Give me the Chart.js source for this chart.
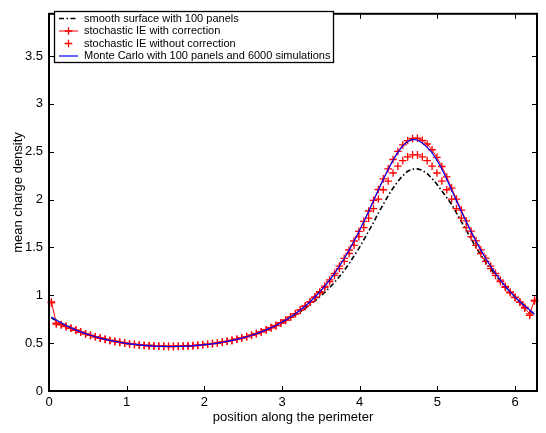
<!DOCTYPE html>
<html><head><meta charset="utf-8">
<script src="https://cdn.jsdelivr.net/npm/chart.js@4"></script>
<style>html,body{margin:0;padding:0;background:#fff;} canvas{display:block;}</style>
</head><body>
<canvas id="c" width="546" height="433"></canvas>
<script>
const positions = [0.031,0.094,0.157,0.220,0.283,0.346,0.408,0.471,0.534,0.597,0.660,0.723,0.785,0.848,0.911,0.974,1.037,1.100,1.162,1.225,1.288,1.351,1.414,1.477,1.539,1.602,1.665,1.728,1.791,1.854,1.916,1.979,2.042,2.105,2.168,2.231,2.293,2.356,2.419,2.482,2.545,2.608,2.670,2.733,2.796,2.859,2.922,2.985,3.047,3.110,3.173,3.236,3.299,3.362,3.424,3.487,3.550,3.613,3.676,3.739,3.801,3.864,3.927,3.990,4.053,4.116,4.178,4.241,4.304,4.367,4.430,4.492,4.555,4.618,4.681,4.744,4.807,4.869,4.932,4.995,5.058,5.121,5.184,5.246,5.309,5.372,5.435,5.498,5.560,5.623,5.686,5.749,5.812,5.875,5.938,6.000,6.063,6.126,6.189,6.252];

const smoothSurface = [0.764,0.734,0.707,0.681,0.658,0.637,0.617,0.600,0.583,0.568,0.555,0.542,0.531,0.521,0.512,0.504,0.497,0.490,0.485,0.480,0.477,0.474,0.471,0.470,0.469,
0.469,0.470,0.471,0.474,0.477,0.480,0.485,0.490,0.497,0.504,0.512,0.521,0.531,0.542,0.555,0.568,0.583,0.600,0.617,0.637,0.658,0.681,0.707,0.734,0.764,
0.795,0.828,0.864,0.902,0.942,0.985,1.030,1.080,1.135,1.195,1.260,1.330,1.410,1.490,1.580,1.670,1.760,1.860,1.950,2.040,2.120,2.190,2.250,2.295,2.318,
2.320,2.305,2.270,2.220,2.160,2.090,2.020,1.950,1.860,1.770,1.680,1.590,1.500,1.420,1.345,1.275,1.210,1.150,1.090,1.035,0.985,0.935,0.890,0.845,0.800];

const ieCorrected = [0.930,0.710,0.695,0.675,0.655,0.635,0.615,0.597,0.581,0.566,0.552,0.539,0.528,0.517,0.508,0.500,0.492,0.486,0.480,0.476,0.472,0.469,0.467,0.466,0.465,
0.465,0.466,0.468,0.470,0.473,0.477,0.482,0.488,0.494,0.501,0.510,0.519,0.529,0.541,0.554,0.568,0.583,0.600,0.619,0.640,0.662,0.686,0.713,0.742,0.774,
0.809,0.847,0.888,0.933,0.983,1.037,1.096,1.160,1.229,1.305,1.386,1.473,1.567,1.667,1.772,1.880,1.992,2.105,2.216,2.321,2.418,2.502,2.570,2.616,2.638,
2.640,2.618,2.580,2.520,2.440,2.345,2.236,2.120,2.004,1.890,1.778,1.671,1.569,1.474,1.387,1.305,1.229,1.158,1.093,1.034,0.979,0.928,0.865,0.805,0.950];

const ieUncorrected = [0.920,0.700,0.690,0.672,0.655,0.636,0.616,0.598,0.581,0.566,0.552,0.540,0.528,0.518,0.509,0.500,0.493,0.487,0.481,0.477,0.473,0.470,0.468,0.467,0.466,
0.466,0.467,0.469,0.471,0.474,0.478,0.483,0.489,0.495,0.502,0.510,0.519,0.529,0.541,0.553,0.567,0.582,0.599,0.617,0.638,0.660,0.683,0.709,0.738,0.770,
0.807,0.844,0.884,0.928,0.975,1.026,1.082,1.143,1.208,1.279,1.355,1.436,1.522,1.613,1.707,1.805,1.905,2.005,2.102,2.193,2.277,2.348,2.406,2.446,2.466,
2.466,2.446,2.406,2.348,2.277,2.193,2.102,2.005,1.905,1.805,1.707,1.613,1.522,1.436,1.355,1.279,1.208,1.143,1.082,1.026,0.975,0.928,0.875,0.790,0.940];

const monteCarlo = [0.773,0.741,0.712,0.685,0.661,0.639,0.618,0.599,0.582,0.567,0.553,0.540,0.528,0.518,0.509,0.500,0.493,0.487,0.481,0.476,0.472,0.469,0.467,0.466,0.465,
0.465,0.466,0.467,0.469,0.472,0.476,0.481,0.487,0.493,0.500,0.509,0.518,0.528,0.540,0.553,0.567,0.582,0.599,0.618,0.639,0.661,0.685,0.712,0.741,0.773,
0.808,0.846,0.887,0.932,0.982,1.036,1.094,1.158,1.227,1.303,1.384,1.471,1.564,1.664,1.768,1.876,1.987,2.099,2.210,2.314,2.410,2.493,2.560,2.606,2.628,
2.622,2.590,2.545,2.490,2.412,2.318,2.212,2.100,1.987,1.876,1.768,1.664,1.564,1.471,1.384,1.303,1.227,1.158,1.094,1.036,0.982,0.932,0.887,0.846,0.800];

const seriesLabels = ['smooth surface with 100 panels','stochastic IE with correction','stochastic IE without correction','Monte Carlo with 100 panels and 6000 simulations'];
const xTicks = [0,1,2,3,4,5,6];
const yTicks = [0,0.5,1,1.5,2,2.5,3,3.5];
const xTitle = 'position along the perimeter';
const yTitle = 'mean charge density';
const xMax = 6.2832, yMax = 3.94;

const FONT = '"Liberation Sans", Arial, Helvetica, sans-serif';
const pts = arr => arr.map((v,i)=>({x:positions[i], y:v}));

const datasets = [
  {label: seriesLabels[0], data: pts(smoothSurface), borderColor:'#000', borderWidth:1.6, borderDash:[5,2.5,1.5,2.5], pointRadius:0, order:4, kind:'dashdot'},
  {label: seriesLabels[1], data: pts(ieCorrected), borderColor:'#ff0000', borderWidth:1, pointStyle:'cross', pointRadius:3.8, pointBorderWidth:1.3, pointBorderColor:'#ff0000', order:2, kind:'lineCross'},
  {label: seriesLabels[2], data: pts(ieUncorrected), borderColor:'#ff0000', showLine:false, pointStyle:'cross', pointRadius:3.8, pointBorderWidth:1.3, pointBorderColor:'#ff0000', order:3, kind:'cross'},
  {label: seriesLabels[3], data: pts(monteCarlo), borderColor:'#0000ff', borderWidth:1.2, pointRadius:0, order:1, kind:'line'}
];
datasets.forEach(d=>{d.fill=false; d.tension=0; d.clip=6; d.pointHoverRadius=0;});

const framePlugin = {
  id:'frame',
  afterDraw(chart){
    const {ctx, chartArea:{left,right,top,bottom}, scales:{x,y}} = chart;
    ctx.save();
    ctx.strokeStyle='#000';
    ctx.lineWidth=1;
    const tl=5;
    xTicks.forEach(v=>{
      const p=Math.round(x.getPixelForValue(v))+0.5;
      ctx.beginPath(); ctx.moveTo(p,bottom); ctx.lineTo(p,bottom-tl); ctx.moveTo(p,top); ctx.lineTo(p,top+tl); ctx.stroke();
    });
    yTicks.forEach(v=>{
      const p=Math.round(y.getPixelForValue(v))+0.5;
      ctx.beginPath(); ctx.moveTo(left,p); ctx.lineTo(left+tl,p); ctx.moveTo(right,p); ctx.lineTo(right-tl,p); ctx.stroke();
    });
    ctx.lineWidth=2;
    ctx.strokeRect(left,top,right-left,bottom-top);
    // y title
    ctx.save();
    ctx.translate(18.5,192.5); ctx.rotate(-Math.PI/2);
    ctx.font='13px '+FONT; ctx.fillStyle='#000'; ctx.textAlign='center'; ctx.textBaseline='middle';
    ctx.fillText(yTitle,0,0);
    ctx.restore();
    // legend
    const lx=54.5, ly=11.5, lw=279, lh=51;
    ctx.fillStyle='#fff'; ctx.fillRect(lx,ly,lw,lh);
    ctx.lineWidth=1.3; ctx.strokeStyle='#000'; ctx.strokeRect(lx,ly,lw,lh);
    ctx.font='11px '+FONT; ctx.textBaseline='middle'; ctx.textAlign='left';
    const rows=[18.5,31,43.5,56];
    chart.data.datasets.forEach((d,i)=>{
      const yy=rows[i];
      ctx.save();
      ctx.strokeStyle=d.borderColor;
      if(d.kind!=='cross'){
        ctx.lineWidth=d.borderWidth;
        ctx.setLineDash(d.borderDash||[]);
        ctx.beginPath(); ctx.moveTo(59,yy); ctx.lineTo(78,yy); ctx.stroke();
        ctx.setLineDash([]);
      }
      if(d.kind==='cross'||d.kind==='lineCross'){
        ctx.lineWidth=d.pointBorderWidth;
        ctx.beginPath(); ctx.moveTo(68.5-d.pointRadius,yy); ctx.lineTo(68.5+d.pointRadius,yy);
        ctx.moveTo(68.5,yy-d.pointRadius); ctx.lineTo(68.5,yy+d.pointRadius); ctx.stroke();
      }
      ctx.restore();
      ctx.fillStyle='#000';
      ctx.fillText(d.label,84,yy);
    });
    ctx.restore();
  }
};

new Chart(document.getElementById('c'), {
  type:'line',
  data:{datasets},
  options:{
    responsive:false, animation:false, devicePixelRatio:1,
    layout:{padding:{top:5,right:9,left:0,bottom:0}},
    plugins:{legend:{display:false}, tooltip:{enabled:false}},
    events:[],
    scales:{
      x:{type:'linear', min:0, max:xMax,
        afterBuildTicks:s=>{s.ticks=xTicks.map(v=>({value:v}));},
        afterFit:s=>{s.height=42;},
        grid:{display:false, drawTicks:false},
        border:{display:false},
        ticks:{padding:4, color:'#000', font:{family:FONT,size:13}, maxRotation:0, callback:v=>String(v)},
        title:{display:true, text:xTitle, color:'#000', font:{family:FONT,size:13}, padding:{top:0,bottom:8}}
      },
      y:{type:'linear', min:0, max:yMax,
        afterBuildTicks:s=>{s.ticks=yTicks.map(v=>({value:v}));},
        afterFit:s=>{s.width=49;},
        grid:{display:false, drawTicks:false},
        border:{display:false},
        ticks:{padding:6, color:'#000', font:{family:FONT,size:13}, callback:v=>String(v)},
        title:{display:false}
      }
    }
  },
  plugins:[framePlugin]
});
</script>
</body></html>
